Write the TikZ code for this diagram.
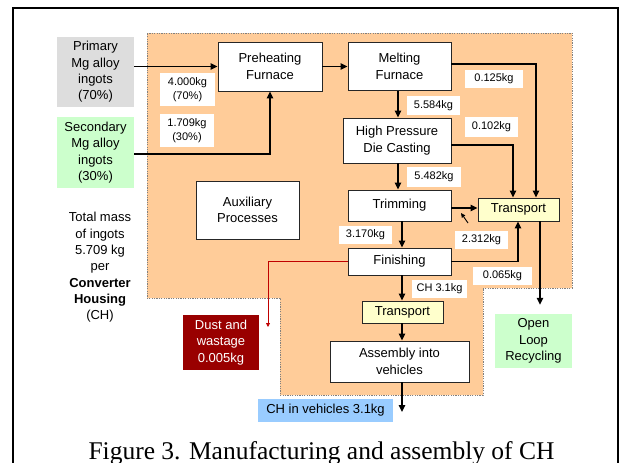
\documentclass[tikz,border=0pt]{standalone}
\usepackage{fontspec}
\setmainfont{Liberation Sans}
\newfontfamily\capfont{Liberation Serif}
\usetikzlibrary{arrows.meta}
\definecolor{procorange}{HTML}{FFCC99}
\definecolor{primgray}{HTML}{DDDDDD}
\definecolor{secgreen}{HTML}{CCFFCC}
\definecolor{transyellow}{HTML}{FFFFCC}
\definecolor{dustred}{HTML}{990000}
\definecolor{chblue}{HTML}{99CCFF}
\definecolor{leadred}{HTML}{C00000}
\tikzset{
  proc/.style={draw=black!85, line width=0.9pt, fill=white, inner sep=0pt, align=center,
    font=\fontsize{13}{16.3}\selectfont},
  srcbox/.style={inner sep=0pt, align=center, font=\fontsize{13}{16.3}\selectfont},
  qty/.style={fill=white, inner sep=0pt, align=center, font=\fontsize{11}{14}\selectfont},
  arr/.style={line width=1.3pt, -{Triangle[length=7pt,width=6.5pt]}},
  flow/.style={line width=1.3pt},
  lossarr/.style={draw=leadred, line width=0.8pt, -{Triangle[length=4pt,width=4pt]}}
}
\begin{document}
\begin{tikzpicture}[x=1pt,y=-1pt]
\useasboundingbox (0,0) rectangle (622,463);
\clip (0,0) rectangle (622,463);
\fill[white] (0,0) rectangle (622,463);
% page frame
\draw[line width=1.5pt] (13,480) -- (13,8) -- (618,8) -- (618,480);
% manufacturing plant area
\draw[fill=procorange, draw=black!50, line width=0.8pt, dash pattern=on 1.2pt off 1.2pt]
  (147,33) -- (572,33) -- (572,288) -- (483,288) -- (483,395) -- (280,395)
  -- (280,298) -- (147,298) -- cycle;

% inputs
\node[srcbox, fill=primgray, minimum width=77, minimum height=70] (prim) at (95.5,72)
  {Primary\\Mg alloy\\ingots\\(70\%)};
\node[srcbox, fill=secgreen, minimum width=77, minimum height=71] (sec) at (95.5,152.5)
  {Secondary\\Mg alloy\\ingots\\(30\%)};
\node[srcbox] (total) at (100,267.5)
  {Total mass\\of ingots\\5.709 kg\\per\\\textbf{Converter}\\\textbf{Housing}\\(CH)};

% process steps
\node[proc, minimum width=104, minimum height=49] (pre) at (270,66.5) {Preheating\\Furnace};
\node[proc, minimum width=103, minimum height=48] (melt) at (399.5,66.5) {Melting\\Furnace};
\node[proc, minimum width=108, minimum height=45] (hpdc) at (397,140.5) {High Pressure\\Die Casting};
\node[proc, minimum width=103, minimum height=31] (trim) at (399.5,205.5) {Trimming};
\node[proc, minimum width=103, minimum height=27] (fin) at (399.5,261.5) {Finishing};
\node[proc, fill=transyellow, minimum width=81, minimum height=22] (tlow) at (402.5,312) {Transport};
\node[proc, minimum width=139, minimum height=41] (asm) at (399.5,361.5) {Assembly into\\vehicles};
\node[proc, fill=transyellow, minimum width=81, minimum height=23] (tright) at (518.5,209.5) {Transport};
\node[proc, minimum width=103, minimum height=58] (aux) at (247.5,210) {Auxiliary\\Processes};

% outputs
\node[srcbox, fill=secgreen, minimum width=77, minimum height=54] (olr) at (533.5,341)
  {Open\\Loop\\Recycling};
\node[srcbox, fill=dustred, text=white, minimum width=76, minimum height=55] (dust) at (221,342.5)
  {Dust and\\wastage\\0.005kg};
\node[srcbox, fill=chblue, minimum width=135, minimum height=23] (chveh) at (325.5,410.5)
  {CH in vehicles 3.1kg};

% quantities
\node[qty, minimum width=55, minimum height=33] (q4000) at (187.5,89.5) {4.000kg\\(70\%)};
\node[qty, minimum width=54, minimum height=33] (q1709) at (187,130.5) {1.709kg\\(30\%)};
\node[qty, minimum width=58, minimum height=18] (q0125) at (494,79) {0.125kg};
\node[qty, minimum width=53, minimum height=19] (q5584) at (433.5,105.5) {5.584kg};
\node[qty, minimum width=53, minimum height=20] (q0102) at (491.5,127) {0.102kg};
\node[qty, minimum width=54, minimum height=20] (q5482) at (434,177) {5.482kg};
\node[qty, minimum width=53, minimum height=18] (q2312) at (481.5,240) {2.312kg};
\node[qty, minimum width=53, minimum height=18] (q3170) at (365.5,235) {3.170kg};
\node[qty, minimum width=59, minimum height=18] (q0065) at (502.5,276) {0.065kg};
\node[qty, minimum width=55, minimum height=18] (q31) at (439.5,289) {CH 3.1kg};

% free ends
\coordinate (chend) at (402,412);
\coordinate (dustend) at (268,327);
\coordinate (leadfrom) at (468,223);
\coordinate (leadto) at (461,213);

% main material flow
\draw[arr] (prim.east |- pre.west) -- (pre.west);
\draw[arr] (sec.east |- 0,154) -| (pre.south);
\draw[arr] (pre.east) -- (melt.west);
\draw[arr] (melt.south -| 398,0) -- (hpdc.north -| 398,0);
\draw[arr] (hpdc.south -| 398,0) -- (trim.north -| 398,0);
\draw[arr] (trim.south -| 402,0) -- (fin.north -| 402,0);
\draw[arr] (fin.south -| 402,0) -- (tlow.north -| 402,0);
\draw[arr] (tlow.south -| 402,0) -- (asm.north -| 402,0);
\draw[arr] (asm.south -| 402,0) -- (chend);

% scrap flows to transport
\draw[arr] (melt.east |- 0,64) -| (tright.north -| 536,0);
\draw[arr] (hpdc.east |- 0,145) -| (tright.north -| 513,0);
\draw[arr] (trim.east |- 0,208) -- (tright.west |- 0,208);
\draw[arr] (fin.east) -| (tright.south -| 518,0);
\draw[line width=0.9pt, -{Triangle[length=4.5pt,width=4pt]}] (leadfrom) -- (leadto);
\draw[arr, shorten >=9pt] (tright.south -| 540,0) -- (olr.north -| 540,0);

% losses
\draw[lossarr] (fin.west) -| (dustend);

% caption
\node[anchor=base, inner sep=0pt, font=\capfont\fontsize{25.5}{30}\selectfont] (cap) at (321.5,459)
  {Figure 3. Manufacturing and assembly of CH};
\end{tikzpicture}
\end{document}
